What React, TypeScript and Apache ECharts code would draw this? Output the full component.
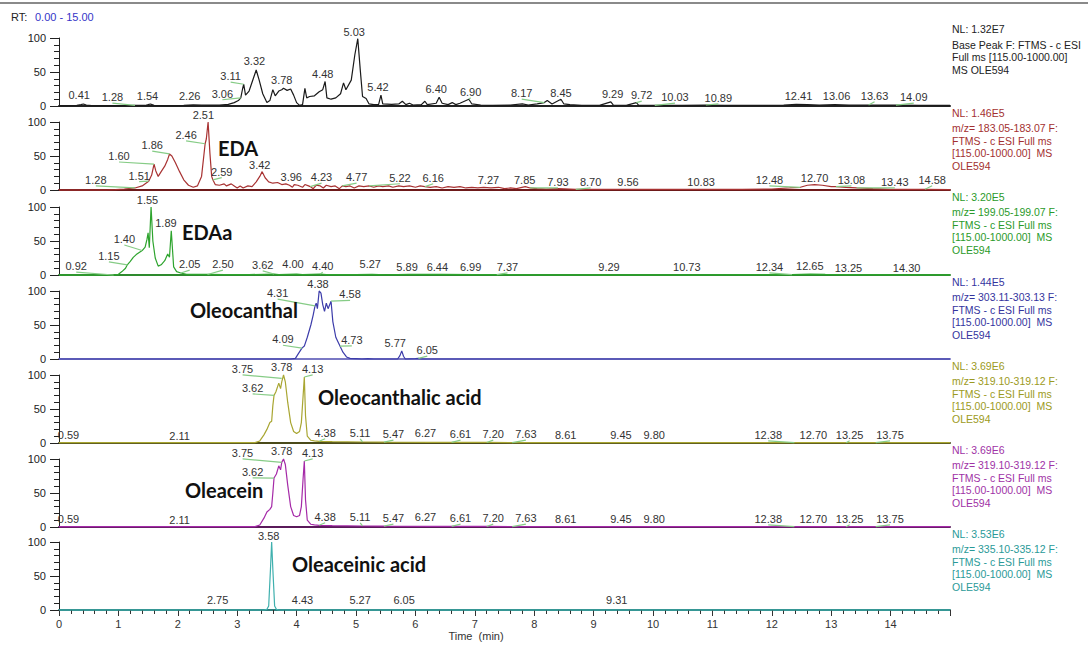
import React, { useEffect, useRef } from "react";
import * as echarts from "echarts";

// ---- traces: [retention time (min), relative abundance (%)] ----
const BP = [
  [0,0.5],[0.3,0.8],[0.37,2],[0.41,3],[0.46,1.5],[0.55,0.6],[0.8,0.5],[1.0,0.4],[1.28,0.8],[1.45,0.8],[1.5,2],[1.54,3],[1.6,1],[1.75,0.6],[1.9,0.5],[2.1,1],[2.26,1.8],[2.4,1.5],[2.51,1.2],[2.7,1.5],[2.85,2.5],[2.95,5],[3.02,8],[3.06,12],[3.09,25],[3.11,32],[3.14,16],[3.2,22],[3.27,40],[3.32,53],[3.37,38],[3.43,18],[3.5,5],[3.55,8],[3.6,24],[3.64,15],[3.7,22],[3.75,24],[3.78,26],[3.84,23],[3.9,25],[3.95,16],[4.0,5],[4.05,1],[4.1,2],[4.14,26],[4.17,12],[4.22,14],[4.3,15],[4.38,21],[4.44,24],[4.48,36],[4.51,12],[4.58,10],[4.66,12],[4.74,18],[4.79,34],[4.83,24],[4.92,38],[4.98,75],[5.03,99],[5.07,55],[5.11,14],[5.17,11],[5.22,3],[5.3,2],[5.38,2],[5.42,16],[5.45,3],[5.6,2.5],[5.72,3],[5.78,7],[5.84,2],[5.9,4],[5.96,1.5],[6.1,2],[6.16,7],[6.2,2],[6.35,4],[6.4,13],[6.45,4],[6.55,2],[6.62,5],[6.68,2],[6.75,4],[6.9,10],[6.95,3],[7.1,1.5],[7.3,1],[7.6,1.5],[7.8,3],[7.9,1.5],[8.05,3],[8.17,5],[8.22,8],[8.3,3],[8.45,10],[8.5,3],[8.6,2],[8.8,1],[9.1,1],[9.29,6],[9.33,1.5],[9.55,1],[9.72,5],[9.76,1],[10.03,1],[10.5,1],[10.89,1.5],[11.2,1],[11.8,1],[12.2,1.5],[12.41,2.5],[12.6,2],[12.8,1.5],[13.06,2],[13.3,1.5],[13.63,1.5],[14.09,1.2],[14.5,1],[15,1]
];
const EDA = [
  [0,0],[0.8,0],[0.95,0.5],[1.1,1.5],[1.28,3],[1.4,6],[1.51,13],[1.56,22],[1.6,38],[1.63,28],[1.67,20],[1.72,27],[1.78,35],[1.83,45],[1.86,53],[1.9,50],[1.96,40],[2.03,27],[2.1,15],[2.18,7],[2.26,4],[2.33,6],[2.4,20],[2.46,68],[2.48,75],[2.51,100],[2.54,55],[2.57,20],[2.59,15],[2.63,8],[2.7,7],[2.78,9],[2.82,6],[2.9,9],[2.95,6],[3.0,3],[3.05,6],[3.1,3],[3.18,6],[3.25,5],[3.32,12],[3.38,20],[3.42,27],[3.47,18],[3.53,12],[3.6,10],[3.68,11],[3.75,8],[3.82,9],[3.88,7],[3.93,4],[3.96,8],[4.02,7],[4.1,4],[4.14,8],[4.2,6],[4.23,5],[4.28,2],[4.33,7],[4.4,6],[4.45,3],[4.5,7],[4.58,5],[4.65,6],[4.72,2],[4.77,6],[4.83,5],[4.9,6],[4.97,3],[5.05,6],[5.13,5],[5.22,6],[5.3,4],[5.38,6],[5.45,5],[5.55,6],[5.62,4],[5.72,6],[5.8,5],[5.9,6],[6.0,4],[6.08,6],[6.16,5],[6.25,4],[6.35,5],[6.45,3],[6.55,5],[6.65,4],[6.75,5],[6.85,3],[6.95,4],[7.05,3],[7.15,4],[7.27,3],[7.4,4],[7.5,2],[7.6,3],[7.7,2],[7.85,5],[7.93,3],[8.05,2],[8.2,1.5],[8.4,2],[8.7,1],[9.0,1],[9.56,1],[10.0,1],[10.83,1],[11.5,1],[12.0,1.5],[12.3,3],[12.48,4],[12.6,7],[12.72,8],[12.85,7],[13.0,5],[13.08,5],[13.25,4],[13.43,3],[13.7,2],[14.0,1],[14.58,1],[15,0.5]
];
const EDAA = [
  [0,0],[0.92,0],[1.0,1],[1.06,5],[1.12,10],[1.15,15],[1.2,20],[1.25,26],[1.3,30],[1.35,33],[1.4,36],[1.45,41],[1.48,52],[1.5,62],[1.52,40],[1.55,100],[1.58,50],[1.62,25],[1.67,13],[1.72,15],[1.78,21],[1.83,31],[1.86,26],[1.89,65],[1.93,12],[1.98,5],[2.05,3],[2.15,1],[2.3,1],[2.5,0.8],[2.8,0.5],[3.2,0.5],[3.62,1.5],[3.7,0.5],[4.0,1.2],[4.1,0.5],[4.4,1.5],[4.5,0.5],[5.0,0.5],[5.27,1],[5.5,0.4],[5.89,0.8],[6.44,0.8],[6.99,0.6],[7.37,0.6],[8.0,0.3],[9.29,0.3],[10.73,0.3],[12.34,0.5],[12.65,1.2],[12.9,0.8],[13.25,0.6],[14.3,0.2],[15,0.2]
];
const OLC = [
  [0,0],[3.9,0],[3.98,1],[4.03,8],[4.09,16],[4.13,19],[4.18,32],[4.24,50],[4.28,65],[4.31,78],[4.33,82],[4.35,74],[4.38,100],[4.41,97],[4.44,80],[4.47,70],[4.5,82],[4.53,74],[4.58,85],[4.61,55],[4.66,32],[4.73,19],[4.78,10],[4.84,3],[4.9,1],[5.0,0.5],[5.1,0],[5.2,0.5],[5.3,0],[5.7,0],[5.74,5],[5.77,12],[5.8,4],[5.83,0],[6.0,0.5],[6.05,1],[6.1,0],[15,0]
];
const OCA = [
  [0,0.5],[2.11,0.5],[3.3,0.5],[3.38,3],[3.45,12],[3.5,20],[3.55,30],[3.58,32],[3.6,55],[3.62,70],[3.65,75],[3.7,88],[3.73,80],[3.75,90],[3.78,100],[3.81,90],[3.85,60],[3.9,30],[3.95,17],[4.0,14],[4.05,17],[4.08,30],[4.11,70],[4.13,97],[4.15,40],[4.18,10],[4.24,4],[4.3,3],[4.38,2.5],[4.6,2],[5.11,1.5],[5.47,1.2],[6.27,1],[6.61,1],[7.2,0.8],[7.63,0.6],[8.61,0.5],[9.45,0.5],[9.8,0.5],[12.38,0.5],[12.7,0.5],[13.25,0.5],[13.75,0.5],[15,0.5]
];
const OLE = [
  [0,0.5],[2.11,0.5],[3.3,0.5],[3.38,3],[3.45,13],[3.5,22],[3.55,26],[3.58,30],[3.6,50],[3.62,72],[3.66,78],[3.7,90],[3.73,84],[3.75,95],[3.78,100],[3.81,92],[3.85,62],[3.9,30],[3.95,17],[4.0,15],[4.05,17],[4.08,30],[4.11,72],[4.13,97],[4.15,40],[4.18,10],[4.24,4],[4.3,3],[4.38,2.5],[4.6,2],[5.11,1.5],[5.47,1.2],[6.27,1],[6.61,1],[7.2,0.8],[7.63,0.6],[8.61,0.5],[9.45,0.5],[9.8,0.5],[12.38,0.5],[12.7,0.5],[13.25,0.5],[13.75,0.5],[15,0.5]
];
const OEA = [
  [0,0],[2.75,0],[3.45,0],[3.5,1],[3.53,6],[3.56,60],[3.58,100],[3.6,60],[3.63,6],[3.66,1],[3.7,0],[4.43,0],[5.27,0],[6.05,0],[9.31,0],[15,0]
];

// ---- peak labels: [peak RT, label anchor RT, label anchor %, peak %, connector 0/1] ----
const BP_LABELS = [
  [0.41,0.34,16,3,0],[1.28,0.9,13,1,1],[1.54,1.49,15,3,0],[2.26,2.2,15,2,0],[3.06,2.75,18,12,1],[3.11,2.89,44,32,1],[3.32,3.29,66,53,0],[3.78,3.75,38,26,0],[4.48,4.44,47,36,0],[5.03,4.97,109,99,0],[5.42,5.37,28,16,0],[6.40,6.35,25,13,0],[6.90,6.93,21,10,1],[8.17,7.79,19,5,1],[8.45,8.45,19,10,0],[9.29,9.32,18,6,0],[9.72,9.81,16,5,1],[10.03,10.37,13,1,1],[10.89,11.1,12,1.5,1],[12.41,12.45,15,2.5,0],[13.06,13.09,15,2,0],[13.63,13.73,15,1.5,1],[14.09,14.39,13,1.2,1]
];
const EDA_LABELS = [
  [1.28,0.62,15,3,1],[1.51,1.35,21,13,1],[1.60,1.01,50,38,1],[1.86,1.57,66,53,1],[2.46,2.14,81,68,1],[2.51,2.43,110,100,0],[2.59,2.74,27,15,1],[3.42,3.38,37,27,0],[3.96,3.91,19,8,0],[4.23,4.42,19,5,1],[4.77,5.01,19,6,1],[5.22,5.74,18,6,1],[6.16,6.30,18,5,1],[7.27,7.23,15,3,0],[7.85,7.84,15,5,0],[7.93,8.40,12,3,1],[8.70,8.95,12,1,1],[9.56,9.58,12,1,0],[10.83,10.81,12,1,0],[12.48,11.96,15,4,1],[12.70,12.72,18,8,0],[13.08,13.34,15,5,1],[13.43,14.07,12,3,1],[14.58,14.7,15,1,1]
];
const EDAA_LABELS = [
  [0.92,0.29,13,0,1],[1.15,0.84,28,15,1],[1.40,1.1,53,36,1],[1.55,1.49,110,100,0],[1.89,1.8,76,65,0],[2.05,2.2,16,3,1],[2.50,2.76,16,0.8,1],[3.62,3.43,15,1.5,1],[4.00,3.94,16,1.2,0],[4.40,4.44,13,1.5,1],[5.27,5.24,16,1,0],[5.89,5.86,12,0.8,0],[6.44,6.37,12,0.8,0],[6.99,6.93,12,0.6,0],[7.37,7.55,12,0.6,1],[9.29,9.26,12,0.3,0],[10.73,10.57,12,0.3,0],[12.34,11.96,12,0.5,1],[12.65,12.64,13,1.2,0],[13.25,13.29,10,0.6,0],[14.30,14.27,10,0.2,0]
];
const OLC_LABELS = [
  [4.09,3.77,29,16,1],[4.31,3.68,97,78,1],[4.38,4.36,110,100,0],[4.58,4.9,95,85,1],[4.73,4.93,28,19,1],[5.77,5.66,24,12,0],[6.05,6.2,13,1,1]
];
const OCA_LABELS = [
  [0.59,0.16,12,0.5,0],[2.11,2.03,10,0.5,0],[3.62,3.26,81,70,1],[3.75,3.09,109,95,1],[3.78,3.75,112,100,0],[4.13,4.27,109,97,1],[4.38,4.48,15,2.5,1],[5.11,5.07,15,1.5,1],[5.47,5.63,13,1.2,1],[6.27,6.17,15,1,0],[6.61,6.76,13,1,1],[7.20,7.31,13,0.8,1],[7.63,7.86,13,0.6,1],[8.61,8.53,12,0.5,0],[9.45,9.46,12,0.5,0],[9.80,10.02,12,0.5,0],[12.38,11.94,12,0.5,1],[12.70,12.70,12,0.5,0],[13.25,13.31,12,0.5,1],[13.75,13.99,12,0.5,1]
];
const OLE_LABELS = [
  [0.59,0.16,12,0.5,0],[2.11,2.03,10,0.5,0],[3.62,3.26,81,72,1],[3.75,3.09,109,95,1],[3.78,3.75,112,100,0],[4.13,4.27,109,97,1],[4.38,4.48,15,2.5,1],[5.11,5.07,15,1.5,1],[5.47,5.63,13,1.2,1],[6.27,6.17,15,1,0],[6.61,6.76,13,1,1],[7.20,7.31,13,0.8,1],[7.63,7.86,13,0.6,1],[8.61,8.53,12,0.5,0],[9.45,9.46,12,0.5,0],[9.80,10.02,12,0.5,0],[12.38,11.94,12,0.5,1],[12.70,12.70,12,0.5,0],[13.25,13.31,12,0.5,1],[13.75,13.99,12,0.5,1]
];
const OEA_LABELS = [
  [3.58,3.53,109,100,0],[2.75,2.67,15,0,0],[4.43,4.1,15,0,0],[5.27,5.07,15,0,0],[6.05,5.81,15,0,0],[9.31,9.39,15,0,0]
];

// ---- panel captions ----
const NL_VALUES = ["1.32E7", "1.46E5", "3.20E5", "1.44E5", "3.69E6", "3.69E6", "3.53E6"];
const MZ_RANGES = ["", "183.05-183.07", "199.05-199.07", "303.11-303.13", "319.10-319.12", "319.10-319.12", "335.10-335.12"];
const COMPOUNDS = ["", "EDA", "EDAa", "Oleocanthal", "Oleocanthalic acid", "Oleacein", "Oleaceinic acid"];
const X_TICK_MAX_LABEL = 14;

const FONT = "'Liberation Sans', Arial, sans-serif";

const PANELS = [
  { data: BP, labels: BP_LABELS, line: "#1a1a1a", base: "#222222", text: "#222222" },
  { data: EDA, labels: EDA_LABELS, line: "#a83232", base: "#6e1a1a", text: "#a33030" },
  { data: EDAA, labels: EDAA_LABELS, line: "#2ea42e", base: "#2e8a2e", text: "#2a9a2a" },
  { data: OLC, labels: OLC_LABELS, line: "#3c3caa", base: "#7a78c4", text: "#34349e" },
  { data: OCA, labels: OCA_LABELS, line: "#a9a632", base: "#4a4a1a", text: "#9c9a22" },
  { data: OLE, labels: OLE_LABELS, line: "#a52aa8", base: "#5a1a5a", text: "#a032a6" },
  { data: OEA, labels: OEA_LABELS, line: "#3fb0ae", base: "#2e7e7c", text: "#2a9a98" },
];

const TOPS = [38, 122, 207, 291, 375, 459, 542];
const H = 68;
const LEFT = 59;
const WIDTH = 891;

function labelRenderer(params: any, api: any) {
  const rt = api.value(0);
  const lx = api.value(1);
  const ly = api.value(2);
  const py = api.value(3);
  const conn = api.value(4);
  const p = api.coord([lx, ly]);
  const children: any[] = [];
  if (conn) {
    const q = api.coord([rt, py]);
    children.push({
      type: "line",
      shape: { x1: p[0], y1: p[1] + 6, x2: q[0], y2: q[1] },
      style: { stroke: "#86cc86", lineWidth: 1.2 },
    });
  }
  children.push({
    type: "text",
    style: {
      text: Number(rt).toFixed(2),
      x: p[0],
      y: p[1],
      align: "center",
      verticalAlign: "middle",
      fontSize: 11,
      fontFamily: FONT,
      fill: "#333333",
    },
  });
  return { type: "group", children };
}

function buildOption() {
  const grid = PANELS.map((_, i) => ({ left: LEFT, width: WIDTH, top: TOPS[i], height: H }));
  const xAxis = PANELS.map((p, i) => {
    const last = i === PANELS.length - 1;
    return {
      gridIndex: i,
      type: "value",
      min: 0,
      max: 15,
      interval: 1,
      axisLine: { show: true, lineStyle: { color: p.base, width: 2 } },
      axisTick: { show: last, length: 6, lineStyle: { color: "#333" } },
      minorTick: { show: last, splitNumber: 5, length: 4, lineStyle: { color: "#333" } },
      axisLabel: {
        show: last,
        fontSize: 11,
        fontFamily: FONT,
        color: "#333",
        margin: 8,
        formatter: (v: number) => (v > X_TICK_MAX_LABEL ? "" : String(v)),
      },
      splitLine: { show: false },
    };
  });
  const yAxis = PANELS.map((_, i) => ({
    gridIndex: i,
    type: "value",
    min: 0,
    max: 100,
    interval: 50,
    axisLine: { show: true, lineStyle: { color: "#222", width: 1 } },
    axisTick: { show: true, length: 9, lineStyle: { color: "#222" } },
    minorTick: { show: true, splitNumber: 5, length: 5, lineStyle: { color: "#222" } },
    axisLabel: { fontSize: 11, fontFamily: FONT, color: "#222", margin: 13 },
    splitLine: { show: false },
  }));
  const series: any[] = [];
  PANELS.forEach((p, i) => {
    series.push({
      type: "line",
      xAxisIndex: i,
      yAxisIndex: i,
      data: p.data,
      showSymbol: false,
      symbol: "none",
      clip: false,
      lineStyle: { color: p.line, width: 1.2 },
      z: 3,
    });
    series.push({
      type: "custom",
      xAxisIndex: i,
      yAxisIndex: i,
      data: p.labels,
      renderItem: labelRenderer,
      clip: false,
      silent: true,
      z: 4,
    });
  });

  const graphic: any[] = [];
  graphic.push({ type: "rect", shape: { x: 0, y: 2, width: 1088, height: 2 }, style: { fill: "#8a8a8a" } });
  graphic.push({ type: "text", x: 11, y: 17, style: { text: "RT:", fontSize: 11, fontFamily: FONT, fill: "#222", verticalAlign: "middle" } });
  graphic.push({ type: "text", x: 35, y: 17, style: { text: "0.00 - 15.00", fontSize: 11, fontFamily: FONT, fill: "#3535c8", verticalAlign: "middle" } });
  graphic.push({ type: "text", x: 476, y: 636, style: { text: "Time  (min)", fontSize: 11, fontFamily: FONT, fill: "#333", align: "center", verticalAlign: "middle" } });

  PANELS.forEach((p, i) => {
    const nlY = i === 0 ? 29 : TOPS[i - 1] + H + 6.5;
    const lines =
      i === 0
        ? ["Base Peak F: FTMS - c ESI", "Full ms [115.00-1000.00]", "MS OLE594"]
        : ["m/z= " + MZ_RANGES[i] + " F:", "FTMS - c ESI Full ms", "[115.00-1000.00]  MS", "OLE594"];
    graphic.push({ type: "text", x: 952, y: nlY, style: { text: "NL: " + NL_VALUES[i], fontSize: 10.5, fontFamily: FONT, fill: p.text, verticalAlign: "middle" } });
    lines.forEach((t, k) => {
      graphic.push({ type: "text", x: 952, y: nlY + 15.5 + k * 12.7, style: { text: t, fontSize: 10.5, fontFamily: FONT, fill: p.text, verticalAlign: "middle" } });
    });
  });

  const compoundPos = [null, [218, 148], [182, 232], [190, 310], [318, 397], [185, 490], [292, 564]];
  COMPOUNDS.forEach((c, i) => {
    const pos = compoundPos[i];
    if (!c || !pos) return;
    graphic.push({
      type: "text",
      x: pos[0],
      y: pos[1],
      z: 10,
      style: { text: c, fontSize: 20, fontWeight: "bold", fontFamily: "Lato, 'Open Sans', sans-serif", fill: "#111", verticalAlign: "middle" },
    });
  });

  return { animation: false, backgroundColor: "#ffffff", grid, xAxis, yAxis, series, graphic };
}

export default function App() {
  const ref = useRef<HTMLDivElement>(null);
  useEffect(() => {
    document.body.style.margin = "0";
    const chart = echarts.init(ref.current as HTMLDivElement, null, { renderer: "svg" });
    chart.setOption(buildOption() as any);
    return () => chart.dispose();
  }, []);
  return <div ref={ref} style={{ width: 1088, height: 650 }} />;
}
